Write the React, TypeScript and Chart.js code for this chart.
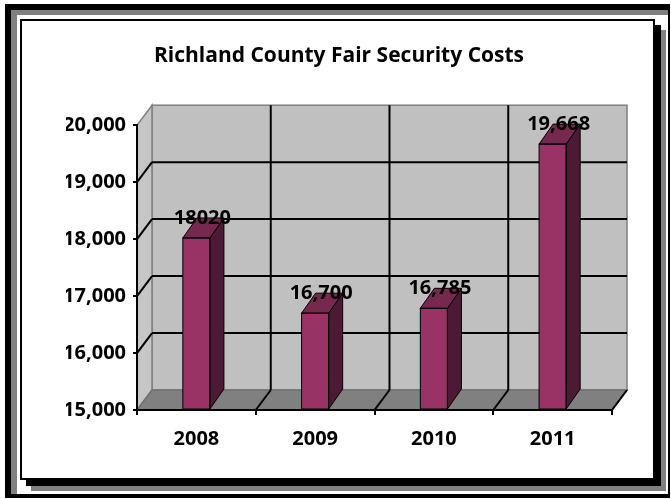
import React, { useEffect, useRef } from "react";
import { Chart, registerables } from "chart.js";

Chart.register(...registerables);

const TITLE = "Richland County Fair Security Costs";
const years = ["2008", "2009", "2010", "2011"];
const costs = [18020, 16700, 16785, 19668];
const costLabels = ["18020", "16,700", "16,785", "19,668"];
const yMin = 15000;
const yMax = 20000;
const yStep = 1000;

const FONT = "'Open Sans', Lato, sans-serif";
const FRONT = "#993366";
const SIDE = "#4d1a35";
const TOP = "#76284f";
const WALL = "#c0c0c0";
const SIDEWALL = "#c6c6c6";
const FLOOR = "#808080";

const WDX = 15;
const WDY = -20;
const BDX = 14;
const BDY = -20;

const threeD = {
  id: "threeD",
  beforeDraw(chart: any) {
    const { ctx, chartArea } = chart;
    const xs = chart.scales.x;
    const ys = chart.scales.y;
    const L = chartArea.left;
    const R = chartArea.right;
    const T = ys.getPixelForValue(yMax);
    const B = ys.getPixelForValue(yMin);
    ctx.save();
    ctx.fillStyle = WALL;
    ctx.fillRect(L + WDX, T + WDY, R - L, B - T);
    ctx.strokeStyle = "#808080";
    ctx.lineWidth = 1.5;
    ctx.strokeRect(L + WDX, T + WDY, R - L, B - T);
    ctx.beginPath();
    ctx.moveTo(L, B);
    ctx.lineTo(L, T);
    ctx.lineTo(L + WDX, T + WDY);
    ctx.lineTo(L + WDX, B + WDY);
    ctx.closePath();
    ctx.fillStyle = SIDEWALL;
    ctx.fill();
    ctx.strokeStyle = "#808080";
    ctx.stroke();
    ctx.beginPath();
    ctx.moveTo(L, B);
    ctx.lineTo(R, B);
    ctx.lineTo(R + WDX, B + WDY);
    ctx.lineTo(L + WDX, B + WDY);
    ctx.closePath();
    ctx.fillStyle = FLOOR;
    ctx.fill();
    ctx.strokeStyle = "#707070";
    ctx.stroke();
    ctx.strokeStyle = "#000";
    ctx.lineWidth = 2;
    for (let v = yMin + yStep; v < yMax; v += yStep) {
      const y = ys.getPixelForValue(v);
      ctx.beginPath();
      ctx.moveTo(L + WDX, y + WDY);
      ctx.lineTo(R + WDX, y + WDY);
      ctx.stroke();
      ctx.beginPath();
      ctx.moveTo(L, y);
      ctx.lineTo(L + WDX, y + WDY);
      ctx.stroke();
    }
    const n = years.length;
    const cw = (xs.right - xs.left) / n;
    for (let i = 1; i <= n; i++) {
      const x = xs.left + i * cw;
      if (i < n) {
        ctx.beginPath();
        ctx.moveTo(x + WDX, T + WDY);
        ctx.lineTo(x + WDX, B + WDY);
        ctx.stroke();
      }
      ctx.beginPath();
      ctx.moveTo(x, B);
      ctx.lineTo(x + WDX, B + WDY);
      ctx.stroke();
    }
    ctx.restore();
  },
  afterDatasetsDraw(chart: any) {
    const { ctx } = chart;
    const ys = chart.scales.y;
    const floorY = ys.getPixelForValue(yMin);
    const meta = chart.getDatasetMeta(0);
    ctx.save();
    ctx.lineWidth = 1;
    ctx.strokeStyle = "#000";
    meta.data.forEach((bar: any) => {
      const p = bar.getProps(["x", "y", "base", "width"], true);
      const left = p.x - p.width / 2;
      const right = p.x + p.width / 2;
      const top = p.y;
      const base = Math.min(p.base, floorY);
      ctx.beginPath();
      ctx.moveTo(right, top);
      ctx.lineTo(right + BDX, top + BDY);
      ctx.lineTo(right + BDX, base + BDY);
      ctx.lineTo(right, base);
      ctx.closePath();
      ctx.fillStyle = SIDE;
      ctx.fill();
      ctx.stroke();
      ctx.beginPath();
      ctx.moveTo(left, top);
      ctx.lineTo(left + BDX, top + BDY);
      ctx.lineTo(right + BDX, top + BDY);
      ctx.lineTo(right, top);
      ctx.closePath();
      ctx.fillStyle = TOP;
      ctx.fill();
      ctx.stroke();
      ctx.strokeRect(left, top, p.width, base - top);
    });
    ctx.fillStyle = "#000";
    ctx.font = `bold 20px ${FONT}`;
    ctx.textAlign = "center";
    ctx.textBaseline = "middle";
    meta.data.forEach((bar: any, i: number) => {
      const p = bar.getProps(["x", "y"], true);
      ctx.fillText(costLabels[i], p.x + 6, p.y - 20);
    });
    ctx.restore();
  },
};

export default function App() {
  const ref = useRef<HTMLCanvasElement | null>(null);
  useEffect(() => {
    document.body.style.margin = "0";
    const canvas = ref.current!;
    const font = { family: FONT, size: 20, weight: "bold" as const };
    const chart = new Chart(canvas, {
      type: "bar",
      data: {
        labels: years,
        datasets: [
          {
            data: costs,
            base: yMin,
            backgroundColor: FRONT,
            borderColor: "#000",
            borderWidth: 0,
            borderSkipped: false,
            barPercentage: 0.228,
            categoryPercentage: 1,
          } as any,
        ],
      },
      options: {
        responsive: false,
        animation: false,
        events: [],
        layout: { padding: { left: 66, right: 59, top: 0, bottom: 39 } },
        plugins: {
          legend: { display: false },
          tooltip: { enabled: false },
          title: {
            display: true,
            text: TITLE,
            color: "#000",
            font: { family: FONT, size: 21, weight: "bold" },
            padding: { top: 43, bottom: 57 },
          },
        },
        scales: {
          x: {
            grid: {
              display: true,
              drawOnChartArea: false,
              drawTicks: true,
              tickLength: 5,
              color: "#000",
              lineWidth: 2,
              offset: true,
            },
            border: { display: true, color: "#000", width: 2 },
            ticks: { font, color: "#000", padding: 12 },
            afterFit: (s: any) => {
              s.height = 50;
            },
          },
          y: {
            min: yMin,
            max: yMax,
            ticks: {
              stepSize: yStep,
              font,
              color: "#000",
              padding: 7,
              callback: (v: any) => Number(v).toLocaleString("en-US"),
            },
            grid: {
              drawOnChartArea: false,
              drawTicks: true,
              tickLength: 4,
              color: "#000",
              lineWidth: 2,
            },
            border: { display: true, color: "#000", width: 2 },
            afterFit: (s: any) => {
              s.width = 71;
            },
          },
        },
      },
      plugins: [threeD],
    });
    return () => chart.destroy();
  }, []);

  return (
    <div
      style={{
        position: "absolute",
        left: 0,
        top: 0,
        width: 671,
        height: 499,
        background: "#fff",
        overflow: "hidden",
      }}
    >
      <div
        style={{
          position: "absolute",
          left: 5,
          top: 4,
          width: 665,
          height: 494,
          boxSizing: "border-box",
          borderTop: "6px solid #000",
          borderLeft: "6px solid #000",
          borderRight: "2px solid #000",
          borderBottom: "4px solid #000",
        }}
      />
      <div
        style={{
          position: "absolute",
          left: 11,
          top: 10,
          width: 657,
          height: 484,
          boxSizing: "border-box",
          borderTop: "5px solid #808080",
          borderLeft: "6px solid #808080",
        }}
      />
      <div
        style={{
          position: "absolute",
          left: 20,
          top: 19,
          width: 635,
          height: 461,
          boxSizing: "border-box",
          border: "2px solid #000",
          background: "#fff",
          boxShadow: "6px 6px 0 #000, 11px 11px 0 #808080",
        }}
      />
      <canvas
        ref={ref}
        width={671}
        height={499}
        style={{ position: "absolute", left: 0, top: 0, width: 671, height: 499 }}
      />
    </div>
  );
}
